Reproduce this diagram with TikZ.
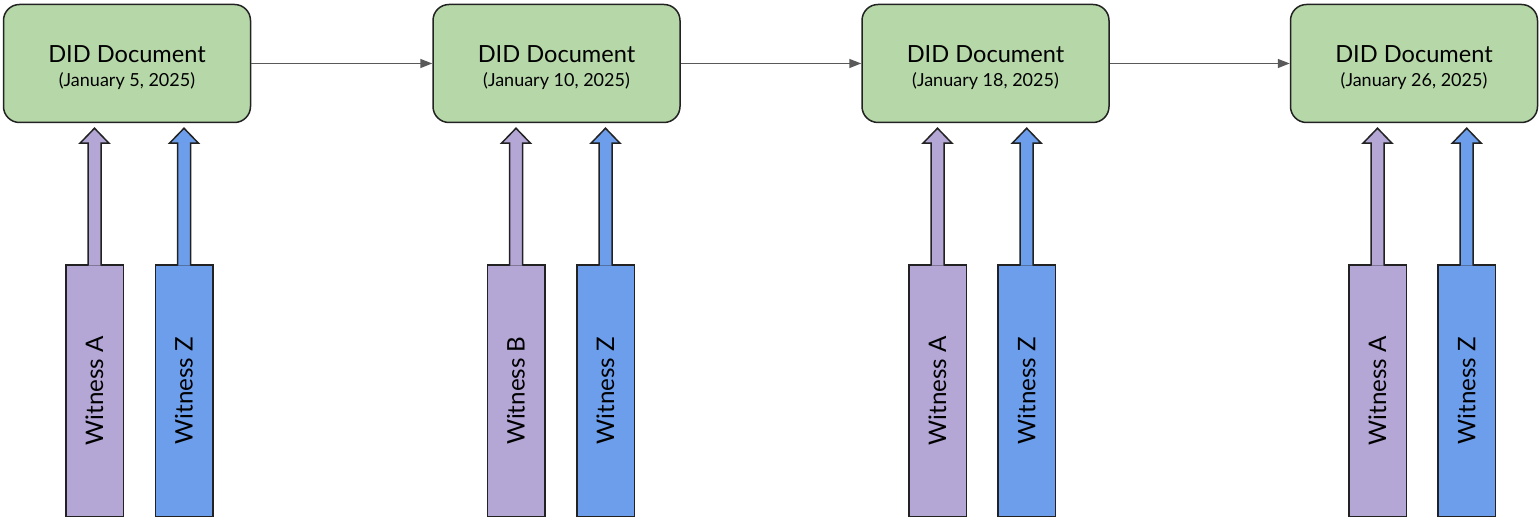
\documentclass[tikz,border=0pt]{standalone}
\usepackage{fontspec}
\setmainfont{Lato}
\usepackage{graphicx}
\definecolor{didgreen}{HTML}{B6D7A8}
\definecolor{witpurple}{HTML}{B4A7D6}
\definecolor{witblue}{HTML}{6D9EEB}
\definecolor{linkgray}{HTML}{595959}
\definecolor{edgeblack}{HTML}{222222}
\usetikzlibrary{arrows.meta,calc}
\newcommand{\datefont}{\fontsize{18}{24}\selectfont}

\begin{document}
\begin{tikzpicture}[x=1pt, y=1pt,
  docbox/.style={rectangle, rounded corners=16pt, draw=edgeblack, line width=1.5pt,
                 fill=didgreen, minimum width=247pt, minimum height=118pt,
                 align=center, font=\fontsize{23.6}{24}\selectfont, text height=49pt},
  witbox/.style={rectangle, draw=edgeblack, line width=1.5pt,
                 minimum width=57.5pt, minimum height=251.5pt,
                 font=\fontsize{24.2}{28}\selectfont},
  larr/.style={-{Triangle[length=12pt, width=9pt]}, draw=linkgray, line width=1.5pt},
  warr/.style={draw=edgeblack, line width=1.5pt, to path={
      let \p1=(\tikztostart.north), \p2=(\tikztotarget.south) in
      (\x1-6.5pt,\y1-1.5pt) -- (\x1-6.5pt,\y2-20pt) -- (\x1-14.5pt,\y2-20pt)
      -- (\x1,\y2-5pt) -- (\x1+14.5pt,\y2-20pt) -- (\x1+6.5pt,\y2-20pt)
      -- (\x1+6.5pt,\y1-1.5pt)}}
]
\useasboundingbox (0,0) rectangle (1539,521);

% DID documents
\node[docbox] (doc1) at (127,457.5)   {DID Document\\{\datefont (January 5, 2025)}};
\node[docbox] (doc2) at (556.5,457.5) {DID Document\\{\datefont (January 10, 2025)}};
\node[docbox] (doc3) at (985.5,457.5) {DID Document\\{\datefont (January 18, 2025)}};
\node[docbox] (doc4) at (1414,457.5)  {DID Document\\{\datefont (January 26, 2025)}};

% Witnesses
\node[witbox, fill=witpurple] (wa1) at (94.5,130.3)   {\rotatebox{90}{Witness A}};
\node[witbox, fill=witblue]   (wz1) at (184,130.3)    {\rotatebox{90}{Witness Z}};
\node[witbox, fill=witpurple] (wb2) at (516,130.3)    {\rotatebox{90}{Witness B}};
\node[witbox, fill=witblue]   (wz2) at (605.5,130.3)  {\rotatebox{90}{Witness Z}};
\node[witbox, fill=witpurple] (wa3) at (937.5,130.3)  {\rotatebox{90}{Witness A}};
\node[witbox, fill=witblue]   (wz3) at (1026.7,130.3) {\rotatebox{90}{Witness Z}};
\node[witbox, fill=witpurple] (wa4) at (1377.5,130.3) {\rotatebox{90}{Witness A}};
\node[witbox, fill=witblue]   (wz4) at (1466.7,130.3) {\rotatebox{90}{Witness Z}};

% Witness arrows
\draw[warr, fill=witpurple] (wa1) to (doc1);
\draw[warr, fill=witblue]   (wz1) to (doc1);
\draw[warr, fill=witpurple] (wb2) to (doc2);
\draw[warr, fill=witblue]   (wz2) to (doc2);
\draw[warr, fill=witpurple] (wa3) to (doc3);
\draw[warr, fill=witblue]   (wz3) to (doc3);
\draw[warr, fill=witpurple] (wa4) to (doc4);
\draw[warr, fill=witblue]   (wz4) to (doc4);

% Document chain
\draw[larr] (doc1.east) -- (doc2.west);
\draw[larr] (doc2.east) -- (doc3.west);
\draw[larr] (doc3.east) -- (doc4.west);
\end{tikzpicture}
\end{document}
